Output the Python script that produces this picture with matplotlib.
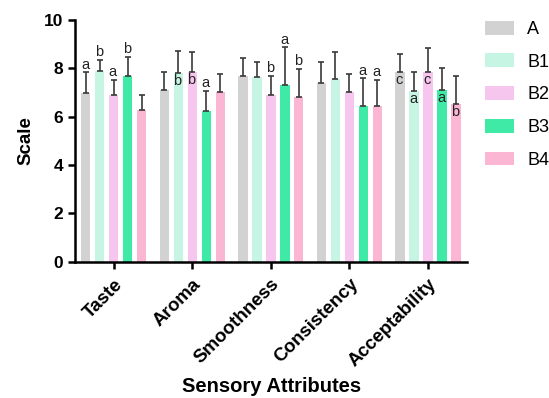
import numpy as np
import matplotlib.pyplot as plt

plt.rcParams['font.family'] = ['Liberation Sans', 'DejaVu Sans']

attributes = ['Taste', 'Aroma', 'Smoothness', 'Consistency', 'Acceptability']
samples = ['A', 'B1', 'B2', 'B3', 'B4']

# means per sample, one value per attribute
means = {
    'A':  [6.97, 7.10, 7.69, 7.38, 7.86],
    'B1': [7.90, 7.80, 7.63, 7.56, 7.08],
    'B2': [6.90, 7.86, 6.90, 7.04, 7.86],
    'B3': [7.70, 6.25, 7.30, 6.45, 7.10],
    'B4': [6.28, 7.04, 6.83, 6.45, 6.52],
}
sds = {
    'A':  [0.87, 0.76, 0.73, 0.90, 0.74],
    'B1': [0.45, 0.92, 0.65, 1.13, 0.78],
    'B2': [0.62, 0.83, 0.80, 0.73, 0.97],
    'B3': [0.78, 0.82, 1.56, 1.14, 0.93],
    'B4': [0.62, 0.73, 1.15, 1.07, 1.17],
}
# significance letters: (letter, above error bar?)
letters = {
    'A':  [('a', True), ('', True), ('', True), ('', True), ('c', False)],
    'B1': [('b', True), ('b', False), ('', True), ('', True), ('a', False)],
    'B2': [('a', True), ('b', False), ('b', True), ('', True), ('c', False)],
    'B3': [('b', True), ('a', True), ('a', True), ('a', True), ('a', False)],
    'B4': [('', True), ('', True), ('b', True), ('a', True), ('b', False)],
}
colors = ['#d2d2d2', '#c6f6e3', '#f7c6ee', '#3eeaa6', '#fbb6d4']

fig = plt.figure(figsize=(5.49, 3.98), dpi=100)
ax = fig.add_axes([0.137, 0.342, 0.714, 0.608])

x = np.arange(len(attributes))
step = 0.178
width = 0.12
for i, s in enumerate(samples):
    pos = x + (i - 2) * step
    ax.bar(pos, means[s], width, color=colors[i], label=s, zorder=2)
    ax.errorbar(pos, means[s], yerr=[np.zeros(len(x)), sds[s]], fmt='none',
                ecolor='#3a3a3a', elinewidth=1.2, capsize=2.2, capthick=1.2, zorder=3)
    for j in range(len(x)):
        lt, above = letters[s][j]
        if not lt:
            continue
        if above:
            ax.text(pos[j] - 0.01, means[s][j] + sds[s][j] + 0.02, lt, ha='center', va='bottom',
                    fontsize=10.5, color='#222222')
        else:
            ax.text(pos[j] - 0.01, means[s][j] - 0.05, lt, ha='center', va='top',
                    fontsize=10.5, color='#222222')

ax.set_xlim(-0.49, 4.5)
ax.set_ylim(0, 10)
ax.set_yticks([0, 2, 4, 6, 8, 10])
ax.set_xticks(x)
ax.set_xticklabels(attributes, rotation=45, ha='right', rotation_mode='anchor',
                   fontsize=13.5, fontweight='bold')
for lab in ax.get_yticklabels():
    lab.set_fontweight('bold')
    lab.set_fontsize(12.5)
ax.tick_params(axis='both', width=1.8, length=5)
ax.tick_params(axis='x', pad=5)
for sp in ['top', 'right']:
    ax.spines[sp].set_visible(False)
for sp in ['left', 'bottom']:
    ax.spines[sp].set_linewidth(1.8)

ax.set_ylabel('Scale', fontsize=13.5, fontweight='bold', labelpad=7)
ax.set_xlabel('Sensory Attributes', fontsize=14.5, fontweight='bold', labelpad=5)

handles, labels = ax.get_legend_handles_labels()
fig.legend(handles, labels, loc='upper left', bbox_to_anchor=(0.883, 0.948), frameon=False,
           fontsize=13, handlelength=1.6, handleheight=0.8, labelspacing=0.86,
           handletextpad=0.75, borderpad=0, borderaxespad=0)

fig.savefig('out.png', dpi=100)
